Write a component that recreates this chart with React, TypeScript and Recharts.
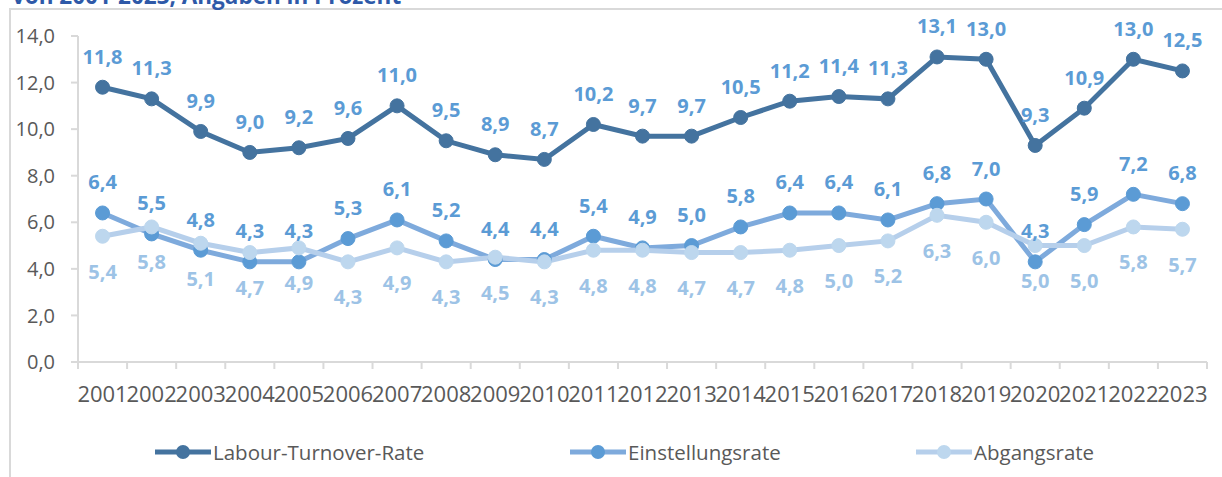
import React from 'react';
import { LineChart, Line, XAxis, YAxis, LabelList } from 'recharts';

const years = ['2001','2002','2003','2004','2005','2006','2007','2008','2009','2010','2011','2012','2013','2014','2015','2016','2017','2018','2019','2020','2021','2022','2023'];
const labourTurnover = [11.8, 11.3, 9.9, 9.0, 9.2, 9.6, 11.0, 9.5, 8.9, 8.7, 10.2, 9.7, 9.7, 10.5, 11.2, 11.4, 11.3, 13.1, 13.0, 9.3, 10.9, 13.0, 12.5];
const einstellungsrate = [6.4, 5.5, 4.8, 4.3, 4.3, 5.3, 6.1, 5.2, 4.4, 4.4, 5.4, 4.9, 5.0, 5.8, 6.4, 6.4, 6.1, 6.8, 7.0, 4.3, 5.9, 7.2, 6.8];
const abgangsrate = [5.4, 5.8, 5.1, 4.7, 4.9, 4.3, 4.9, 4.3, 4.5, 4.3, 4.8, 4.8, 4.7, 4.7, 4.8, 5.0, 5.2, 6.3, 6.0, 5.0, 5.0, 5.8, 5.7];
const yTicks = [0, 2, 4, 6, 8, 10, 12, 14];
const titleText = 'von 2001-2023, Angaben in Prozent';

const seriesNames = ['Labour-Turnover-Rate', 'Einstellungsrate', 'Abgangsrate'];

const data = years.map((y, i) => ({
  year: y,
  ltr: labourTurnover[i],
  ein: einstellungsrate[i],
  abg: abgangsrate[i],
}));

const FONT = '"Open Sans", "Noto Sans", sans-serif';
const fmt = (v: number) => v.toFixed(1).replace('.', ',');

const CHART_W = 1222;
const MARGIN = { top: 36, right: 15, bottom: 75, left: 0 };
const Y_W = 78;
const HALF_BAND = (CHART_W - MARGIN.right - MARGIN.left - Y_W) / years.length / 2;

const makeLabel = (color: string, dy: number) => (props: any) => {
  const { x, y, value } = props;
  return (
    <text x={x} y={y + dy} fill={color} textAnchor="middle" dominantBaseline="central"
      fontSize={20} fontWeight="bold" fontFamily={FONT}>{fmt(Number(value))}</text>
  );
};

const XTick = (props: any) => {
  const { x, y, payload, index } = props;
  const off = payload && payload.offset ? payload.offset : HALF_BAND;
  const isLast = index === years.length - 1;
  return (
    <g>
      <line x1={x - off} x2={x - off} y1={y} y2={y + 7} stroke="#d9d9d9" strokeWidth={2} />
      {isLast && <line x1={x + off} x2={x + off} y1={y} y2={y + 7} stroke="#d9d9d9" strokeWidth={2} />}
      <text x={x} y={y + 31} textAnchor="middle" dominantBaseline="central" fontSize={22}
        fill="#595959" fontFamily={FONT}>{payload.value}</text>
    </g>
  );
};

const colors = {
  ltrLine: '#44739f', ltrDot: '#44739f',
  einLine: '#7eaadc', einDot: '#5b9bd5',
  abgLine: '#b6cfeb', abgDot: '#bdd7ee',
  label: '#5b9bd5', labelLight: '#9dc3e6',
};

const legendItems = [
  { name: seriesNames[0], line: colors.ltrLine, dot: colors.ltrDot, left: 155 },
  { name: seriesNames[1], line: colors.einLine, dot: colors.einDot, left: 570 },
  { name: seriesNames[2], line: colors.abgLine, dot: colors.abgDot, left: 916 },
];

export default function App() {
  return (
    <div style={{ position: 'fixed', left: 0, top: 0, width: 1222, height: 477, background: '#fff', overflow: 'hidden' }}>
      <svg width={1222} height={477} style={{ position: 'absolute', left: 0, top: 0 }}>
        <rect x={10} y={9} width={1230} height={490} fill="none" stroke="#d9d9d9" strokeWidth={2} />
        <text x={12} y={4} fill="#2e59a8" fontSize={22.5} fontWeight="bold" fontFamily={FONT}>{titleText}</text>
      </svg>
      <div style={{ position: 'absolute', left: 0, top: 0 }}>
        <LineChart width={CHART_W} height={477} data={data} margin={MARGIN}>
          <XAxis dataKey="year" height={40} tickLine={false} tickSize={0} tickMargin={0}
            axisLine={{ stroke: '#d9d9d9', strokeWidth: 2 }}
            tick={<XTick />} interval={0} padding={{ left: HALF_BAND, right: HALF_BAND }} />
          <YAxis width={Y_W} domain={[0, 14]} ticks={yTicks} tickFormatter={(v: number) => fmt(v)}
            axisLine={{ stroke: '#d9d9d9', strokeWidth: 2 }} tickLine={{ stroke: '#d9d9d9', strokeWidth: 2 }}
            tickSize={7} tickMargin={16}
            tick={{ fontSize: 20, fill: '#595959', fontFamily: FONT }} />
          <Line dataKey="ltr" name={seriesNames[0]} stroke={colors.ltrLine} strokeWidth={5} isAnimationActive={false}
            dot={{ r: 7, fill: colors.ltrDot, stroke: colors.ltrDot, strokeWidth: 1 }} activeDot={false}>
            <LabelList dataKey="ltr" content={makeLabel(colors.label, -31)} />
          </Line>
          <Line dataKey="ein" name={seriesNames[1]} stroke={colors.einLine} strokeWidth={5} isAnimationActive={false}
            dot={{ r: 7, fill: colors.einDot, stroke: colors.einDot, strokeWidth: 1 }} activeDot={false}>
            <LabelList dataKey="ein" content={makeLabel(colors.label, -31)} />
          </Line>
          <Line dataKey="abg" name={seriesNames[2]} stroke={colors.abgLine} strokeWidth={5} isAnimationActive={false}
            dot={{ r: 7, fill: colors.abgDot, stroke: colors.abgDot, strokeWidth: 1 }} activeDot={false}>
            <LabelList dataKey="abg" content={makeLabel(colors.labelLight, 35)} />
          </Line>
        </LineChart>
      </div>
      {legendItems.map((it) => (
        <div key={it.name} style={{ position: 'absolute', left: it.left, top: 440, height: 24, display: 'flex', alignItems: 'center' }}>
          <svg width={56} height={24}>
            <line x1={0} x2={56} y1={12} y2={12} stroke={it.line} strokeWidth={5} />
            <circle cx={28} cy={12} r={7} fill={it.dot} />
          </svg>
          <span style={{ fontFamily: FONT, fontSize: 20.5, color: '#595959', marginLeft: 2, lineHeight: '24px' }}>{it.name}</span>
        </div>
      ))}
    </div>
  );
}
